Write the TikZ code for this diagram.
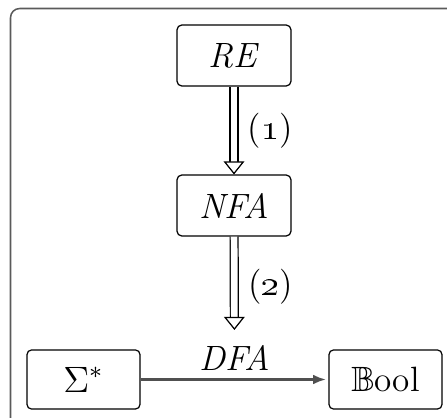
\documentclass[tikz,border=0pt]{standalone}
\usepackage{amsmath}
\usepackage{amssymb}
\usepackage{tikz}
\usetikzlibrary{arrows.meta,positioning}
\usepackage{xcolor}
\definecolor{frgray}{RGB}{90,90,90}
\definecolor{rungray}{RGB}{80,80,80}

\begin{document}
\begin{tikzpicture}[x=0.0115cm, y=-0.0115cm,
    every node/.style={font=\fontsize{11.5}{14}\selectfont},
    box/.style={rectangle, draw, rounded corners=1.5pt, minimum width=1.31cm, minimum height=0.70cm, inner sep=0pt},
    refine/.style={draw, double, double distance=2.2pt, line width=0.4pt, -{Triangle[open, fill=white, length=4.3pt, width=6.8pt]}},
    run/.style={draw=rungray, line width=1pt, -{Latex[length=4.3pt, width=3.2pt]}, shorten >=0.7pt},
    step label/.style={anchor=west}
]
% page and outer frame
\clip (0,0) rectangle (447,418);
\draw[frgray, line width=0.5pt, rounded corners=3pt] (10.5,8.5) rectangle (470,440);

% translation chain
\node[box] (re) at (234,55.5) {\textit{RE}};
\node[box] (nfa) at (234,205.5) {\textit{NFA}};
\node[box, minimum width=1.30cm, minimum height=0.68cm] (sigma) at (83.5,379.5) {$\Sigma^*$};
\node[box, minimum width=1.30cm, minimum height=0.68cm] (bool) at (385.5,379.5) {$\mathbb{B}$ool};

\draw[run] (sigma) -- node[above, inner sep=2.5pt] (dfa) {\textit{DFA}} (bool);

\draw[refine] (re) -- node[step label, xshift=1pt] (one) {(\oldstylenums{1})} (nfa);
\draw[refine, shorten >=2pt] (nfa) -- node[step label, xshift=1pt] (two) {(\oldstylenums{2})} (dfa);
\end{tikzpicture}
\end{document}
